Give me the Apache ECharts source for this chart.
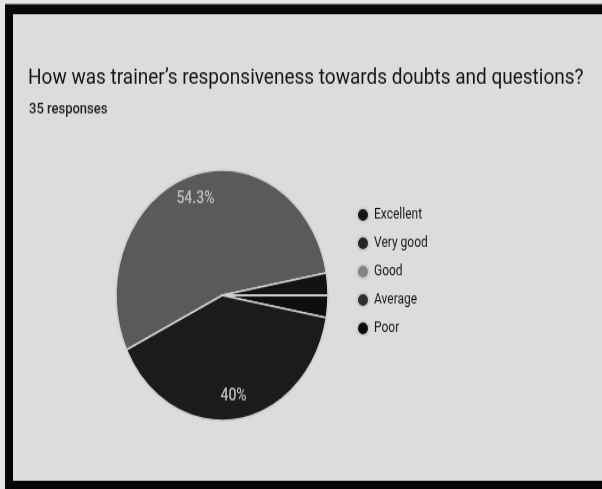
<!DOCTYPE html>
<html>
<head>
<meta charset="utf-8">
<script src="https://cdn.jsdelivr.net/npm/echarts@6/dist/echarts.min.js"></script>
<style>
  html { overflow: hidden; background: #e4e4e4; }
  body { margin: 0; padding: 0; width: 602px; height: 489px; background: #e4e4e4; }
  /* the photo is stretched vertically, so the whole chart is scaled the same way */
  #chart { width: 602px; height: 414px; transform: scaleY(1.1812); transform-origin: 0 0; }
</style>
</head>
<body>
<div id="chart"></div>
<script>
const categories = ['Excellent', 'Very good', 'Good', 'Average', 'Poor']
const counts = [1, 14, 19, 1, 0]
const sliceColors = ['#0e0e0e', '#1b1b1b', '#5a5a5a', '#131313', '#0a0a0a']
const legendColors = ['#151515', '#262626', '#858585', '#2e2e2e', '#0c0c0c']

const chart = echarts.init(document.getElementById('chart'))

const pieData = categories.map((name, i) => ({
  name: name,
  value: counts[i],
  itemStyle: { color: sliceColors[i] }
}))

const options = {
  animation: false,
  graphic: [
    // black photo frame
    { type: 'rect', z: -10, shape: { x: 5, y: 3.4, width: 700, height: 411 }, style: { fill: '#050505' } },
    { type: 'rect', z: -9, shape: { x: 13, y: 12, width: 700, height: 395 }, style: { fill: '#dcdcdc' } }
  ],
  title: [
    {
      text: 'How was trainer\u2019s responsiveness towards doubts and questions?',
      left: 23,
      top: 52,
      textStyle: { fontFamily: 'Roboto', fontSize: 19, fontWeight: 'normal', color: '#141414' }
    },
    {
      text: '35 responses',
      left: 24,
      top: 81,
      textStyle: { fontFamily: 'Roboto', fontSize: 13, fontWeight: 500, color: '#1e1e1e' }
    }
  ],
  legend: {
    orient: 'vertical',
    left: 351,
    top: 170,
    icon: 'circle',
    itemWidth: 12,
    itemHeight: 12,
    itemGap: 10,
    textStyle: { fontFamily: 'Roboto', fontSize: 12, color: '#161616' },
    data: categories.map((name, i) => ({ name: name, itemStyle: { color: legendColors[i] } }))
  },
  series: [
    {
      type: 'pie',
      center: [222, 250],
      radius: 106,
      startAngle: 0,
      clockwise: true,
      avoidLabelOverlap: false,
      label: { show: false },
      labelLine: { show: false },
      itemStyle: { borderColor: '#cfcfcf', borderWidth: 1.5 },
      emphasis: { disabled: true },
      data: pieData
    },
    {
      // transparent ring that only carries the percentage labels
      type: 'pie',
      center: [222, 250],
      radius: [60, 106],
      startAngle: 0,
      clockwise: true,
      silent: true,
      legendHoverLink: false,
      percentPrecision: 1,
      avoidLabelOverlap: false,
      itemStyle: { color: 'rgba(0,0,0,0)', borderWidth: 0 },
      labelLine: { show: false },
      label: {
        show: true,
        position: 'inside',
        fontFamily: 'Roboto',
        fontSize: 14,
        fontWeight: 500,
        color: '#bdbdbd',
        formatter: p => (p.percent > 10 ? p.percent + '%' : '')
      },
      emphasis: { disabled: true },
      data: categories.map((name, i) => ({ name: name, value: counts[i] }))
    }
  ]
}
chart.setOption(options)
</script>
</body>
</html>
